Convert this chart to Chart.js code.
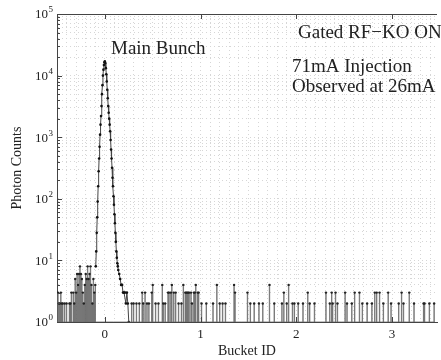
<!DOCTYPE html>
<html>
<head>
<meta charset="utf-8">
<script src="https://cdn.jsdelivr.net/npm/chart.js@4"></script>
<style>
html, body { margin: 0; padding: 0; background: #fff; }
</style>
</head>
<body>
<canvas id="bunchChart" width="441" height="360"></canvas>
<script>
// main bunch (bucket ID, photon counts)
const peakIds = [-0.095, -0.09, -0.085, -0.08, -0.075, -0.07, -0.065, -0.06, -0.055, -0.05,
  -0.045, -0.04, -0.035, -0.03, -0.025, -0.02, -0.015, -0.01, -0.005, 0,
  0.005, 0.01, 0.015, 0.02, 0.025, 0.03, 0.035, 0.04, 0.045, 0.05,
  0.055, 0.06, 0.065, 0.07, 0.075, 0.08, 0.085, 0.09, 0.095, 0.1,
  0.105, 0.11, 0.115, 0.12, 0.125, 0.13, 0.135, 0.14, 0.15, 0.16,
  0.17, 0.18, 0.19, 0.2, 0.21, 0.22, 0.23, 0.24, 0.25];
const peakCounts = [8, 14, 28, 50, 90, 160, 280, 450, 700, 1100,
  1600, 2200, 3200, 5000, 7000, 10000, 12500, 14800, 16500, 17000,
  16000, 13200, 10500, 8000, 5900, 4300, 3200, 2500, 2000, 1600,
  1250, 900, 630, 450, 320, 220, 160, 110, 80, 56,
  40, 28, 20, 14, 11, 9, 8, 7, 6, 5,
  4, 4, 3, 3, 3, 2, 3, 2, 1];

// background buckets above the floor
const noiseIds = [-0.49, -0.48, -0.47, -0.46, -0.45, -0.44, -0.42, -0.40, -0.37, -0.36,
  -0.35, -0.33, -0.32, -0.31, -0.30, -0.29, -0.28, -0.27, -0.26, -0.25,
  -0.24, -0.23, -0.22, -0.21, -0.20, -0.19, -0.18, -0.17, -0.16, -0.15,
  -0.14, -0.13, -0.12, -0.11, -0.10,
  0.28, 0.30, 0.33, 0.36, 0.39, 0.40, 0.42, 0.44, 0.46, 0.49,
  0.50, 0.53, 0.56, 0.60, 0.61, 0.63, 0.66, 0.67, 0.69, 0.70,
  0.72, 0.74, 0.77, 0.80, 0.82, 0.84, 0.85, 0.86, 0.87, 0.88,
  0.90, 0.91, 0.93, 0.94, 0.95, 0.97, 0.98, 1.01, 1.06, 1.13,
  1.17, 1.20, 1.23, 1.26, 1.35, 1.36, 1.49, 1.52, 1.56, 1.61,
  1.65, 1.72, 1.77, 1.85, 1.87, 1.90, 1.92, 1.96, 1.98, 2.02,
  2.07, 2.12, 2.14, 2.19, 2.31, 2.35, 2.37, 2.38, 2.41, 2.43,
  2.51, 2.53, 2.58, 2.61, 2.66, 2.69, 2.74, 2.79, 2.82, 2.84,
  2.87, 2.91, 2.96, 2.99, 3.07, 3.10, 3.12, 3.18, 3.23, 3.33,
  3.34, 3.39, 3.44];
const noiseCounts = [3, 2, 2, 3, 2, 2, 2, 2, 2, 2,
  3, 3, 2, 5, 3, 6, 4, 6, 8, 6,
  5, 3, 2, 4, 6, 5, 8, 5, 6, 8,
  4, 2, 5, 3, 4,
  2, 2, 2, 2, 3, 2, 3, 2, 2, 3,
  4, 2, 2, 4, 2, 2, 3, 3, 3, 4,
  3, 3, 2, 2, 4, 3, 3, 3, 3, 3,
  3, 2, 3, 3, 4, 3, 3, 2, 2, 2,
  4, 2, 2, 2, 4, 3, 3, 2, 2, 2,
  2, 4, 2, 2, 3, 2, 4, 2, 2, 2,
  2, 3, 2, 2, 3, 2, 3, 2, 3, 2,
  3, 2, 2, 3, 3, 2, 2, 2, 3, 3,
  3, 2, 3, 2, 2, 3, 2, 3, 2, 2,
  2, 2, 2];

const xTickLabels = [0, 1, 2, 3];
const yDecades = [0, 1, 2, 3, 4, 5];
const notes = [
  { text: 'Main Bunch', x: 111, y: 54 },
  { text: 'Gated RF\u2212KO ON', x: 298, y: 38 },
  { text: '71mA Injection', x: 292, y: 72 },
  { text: 'Observed at 26mA', x: 292, y: 92 }
];

const serif = '"Liberation Serif", "Times New Roman", serif';

const peakData = peakIds.map((x, i) => ({ x: x, y: peakCounts[i] }));
const noiseData = [];
noiseIds.forEach((x, i) => {
  noiseData.push({ x: x - 0.004, y: 1 }, { x: x, y: noiseCounts[i] }, { x: x + 0.004, y: 1 });
});

const gridX = [];
for (let k = -5; k <= 34; k++) gridX.push(k / 10);
const gridY = [];
for (let e = 0; e < 5; e++) for (let m = 1; m <= 9; m++) gridY.push(m * Math.pow(10, e));
gridY.push(1e5);

const decorPlugin = {
  id: 'decor',
  afterDraw(chart) {
    const ctx = chart.ctx;
    const area = chart.chartArea;
    const xs = chart.scales.x, ys = chart.scales.y;
    ctx.save();
    ctx.strokeStyle = '#444';
    ctx.lineWidth = 1;
    ctx.beginPath();
    ctx.moveTo(area.left, area.top + 0.5);
    ctx.lineTo(area.right, area.top + 0.5);
    xTickLabels.forEach(v => {
      const px = Math.round(xs.getPixelForValue(v)) + 0.5;
      ctx.moveTo(px, area.bottom); ctx.lineTo(px, area.bottom - 5);
      ctx.moveTo(px, area.top); ctx.lineTo(px, area.top + 5);
    });
    gridY.forEach(v => {
      const py = Math.round(ys.getPixelForValue(v)) + 0.5;
      const len = Math.abs(Math.log10(v) - Math.round(Math.log10(v))) < 1e-9 ? 5 : 3;
      ctx.moveTo(area.left, py); ctx.lineTo(area.left + len, py);
    });
    ctx.stroke();

    ctx.fillStyle = '#222';
    // y labels 10^n
    yDecades.forEach(e => {
      const py = ys.getPixelForValue(Math.pow(10, e));
      ctx.font = '13px ' + serif;
      ctx.textAlign = 'right';
      ctx.textBaseline = 'middle';
      ctx.fillText('10', 48, py + 1);
      ctx.font = '9px ' + serif;
      ctx.textAlign = 'left';
      ctx.fillText(String(e), 48.5, py - 4);
    });
    // x labels
    ctx.font = '13px ' + serif;
    ctx.textAlign = 'center';
    ctx.textBaseline = 'middle';
    xTickLabels.forEach(v => {
      ctx.fillText(String(v), xs.getPixelForValue(v), 335);
    });
    // axis titles
    ctx.font = '14px ' + serif;
    ctx.textBaseline = 'alphabetic';
    ctx.fillText('Bucket ID', (area.left + area.right) / 2, 355);
    ctx.save();
    ctx.translate(21, (area.top + area.bottom) / 2);
    ctx.rotate(-Math.PI / 2);
    ctx.fillText('Photon Counts', 0, 0);
    ctx.restore();
    // notes
    ctx.font = '19px ' + serif;
    ctx.textAlign = 'left';
    notes.forEach(n => ctx.fillText(n.text, n.x, n.y));
    ctx.restore();
  }
};

const dotRadius = c => (c.raw && c.raw.y > 1 ? 1.2 : 0);

const ctx = document.getElementById('bunchChart').getContext('2d');
const bunchChart = new Chart(ctx, {
  type: 'line',
  data: {
    datasets: [
      {
        label: 'Background',
        data: noiseData,
        stepped: 'middle',
        borderColor: '#6a6a6a',
        borderWidth: 0.8,
        pointRadius: dotRadius,
        pointBackgroundColor: '#222',
        pointBorderWidth: 0
      },
      {
        label: 'Main Bunch',
        data: peakData,
        borderColor: '#444',
        borderWidth: 1,
        pointRadius: 1.3,
        pointBackgroundColor: '#111',
        pointBorderWidth: 0
      }
    ]
  },
  options: {
    responsive: false,
    animation: false,
    parsing: false,
    layout: { padding: { top: 14, right: 0, left: 0, bottom: 0 } },
    plugins: { legend: { display: false }, tooltip: { enabled: false } },
    scales: {
      x: {
        type: 'linear',
        min: -0.5,
        max: 3.47,
        afterFit: s => { s.height = 38; },
        afterBuildTicks: s => { s.ticks = gridX.map(v => ({ value: v })); },
        ticks: { display: false },
        grid: { color: '#d6d6d6', lineWidth: 1, drawTicks: false },
        border: { color: '#444', width: 1, dash: [1, 3] }
      },
      y: {
        type: 'logarithmic',
        min: 1,
        max: 1e5,
        afterFit: s => { s.width = 57; },
        afterBuildTicks: s => { s.ticks = gridY.map(v => ({ value: v })); },
        ticks: { display: false },
        grid: { color: '#d6d6d6', lineWidth: 1, drawTicks: false },
        border: { color: '#444', width: 1, dash: [1, 3] }
      }
    }
  },
  plugins: [decorPlugin]
});
</script>
</body>
</html>
